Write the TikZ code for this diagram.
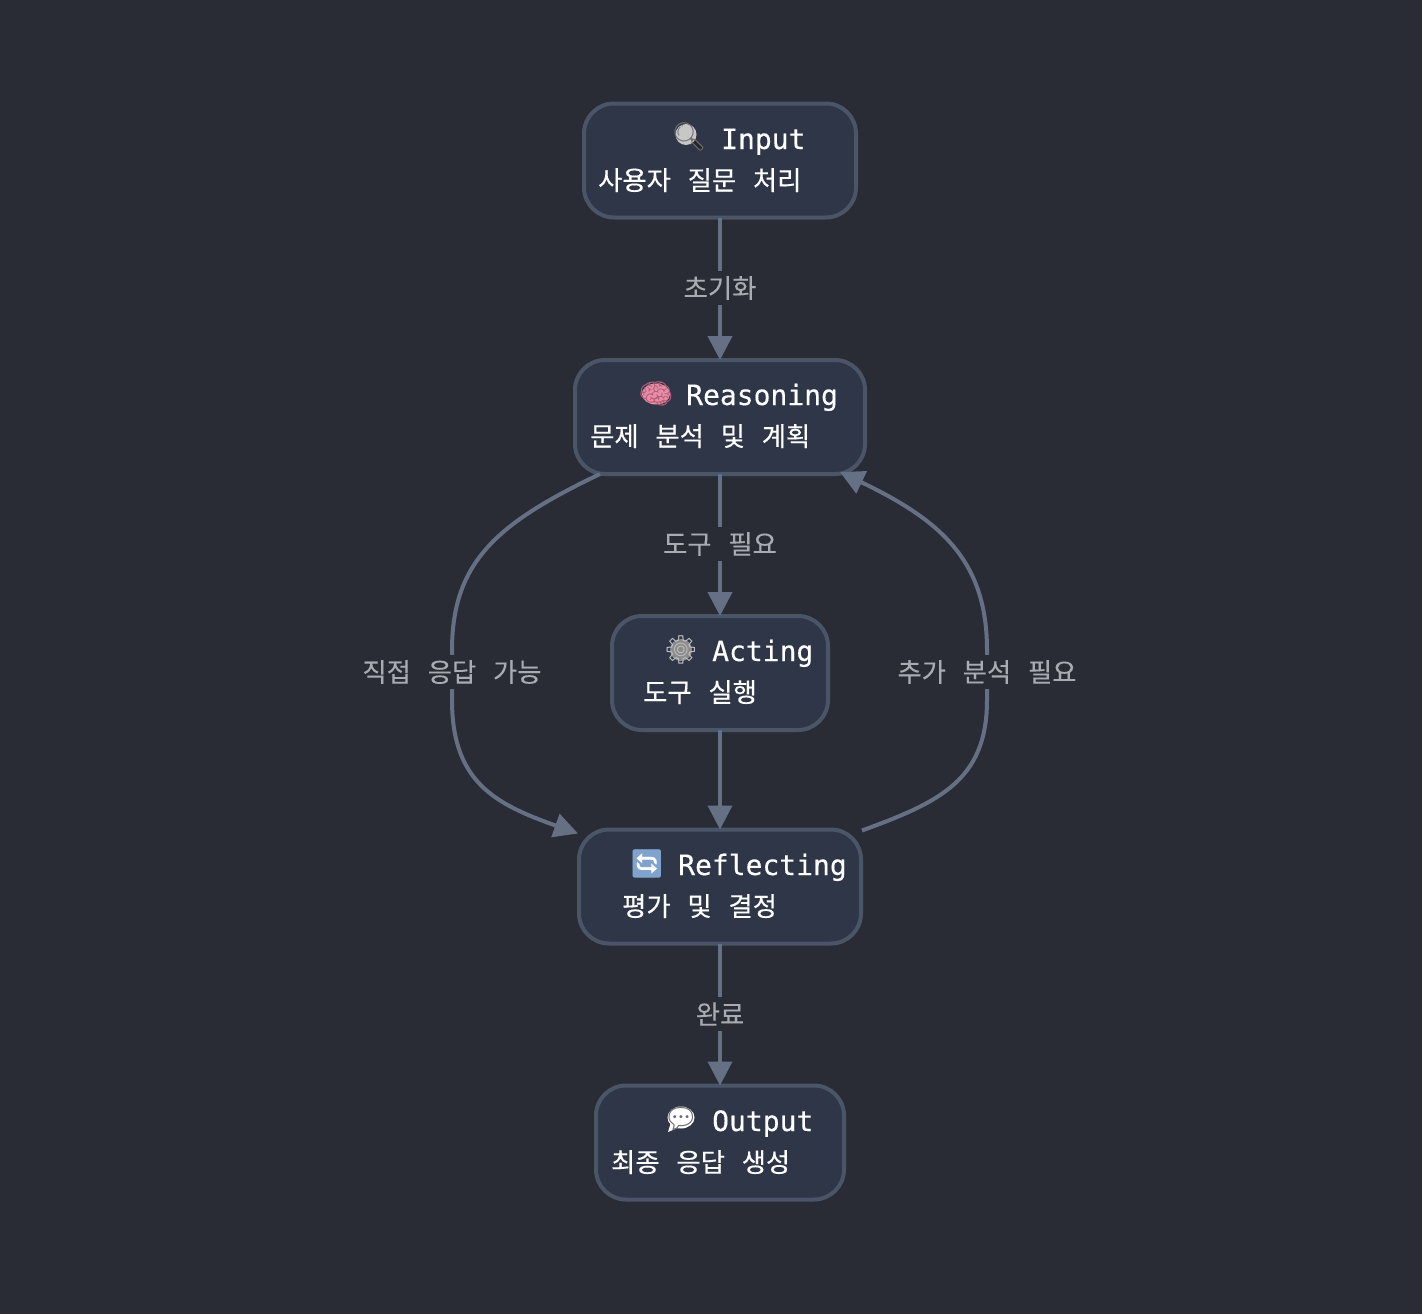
\documentclass[tikz,border=0pt]{standalone}
\usepackage{fontspec}
\usetikzlibrary{arrows.meta,calc}
\setmainfont[FakeBold=0.25]{DejaVu Sans Mono}
\newfontfamily\krfont[FakeBold=0.35]{Noto Sans CJK KR}
\newfontfamily\krlabel[FakeBold=0.15]{Noto Sans CJK KR}
\newfontfamily\emojifont{Noto Emoji}
\definecolor{bgc}{HTML}{292C34}
\definecolor{boxfill}{HTML}{2E3647}
\definecolor{boxline}{HTML}{4A5568}
\definecolor{edgec}{HTML}{667085}
\definecolor{labelc}{HTML}{A8ABB2}
\definecolor{brainc}{HTML}{E58FA8}
\definecolor{brainl}{HTML}{B85C78}
\definecolor{cyclec}{HTML}{7FA3CC}
\newcommand{\kgap}{\hspace{16.8pt}}
\tikzset{
  x=1pt,y=-1pt,
  stagebox/.style={draw=boxline,fill=boxfill,line width=4pt,rounded corners=30pt,inner sep=0pt,outer sep=0pt,minimum height=114pt},
  titletext/.style={anchor=base west,inner sep=0pt,text=white,font=\fontsize{28}{28}\selectfont},
  subtext/.style={anchor=base west,inner sep=0pt,text=white,font=\fontsize{26.35}{28}\krfont},
  emojitext/.style={anchor=center,inner sep=0pt,font=\fontsize{28}{28}\emojifont},
  edgelabel/.style={fill=bgc,text=labelc,inner sep=0pt,minimum height=34pt,font=\fontsize{26.35}{28}\krlabel},
  flow/.style={draw=edgec,line width=4pt,-{Triangle[length=24pt,width=24pt]}},
}
\begin{document}
\begin{tikzpicture}
\useasboundingbox[fill=bgc] (0,0) rectangle (1422,1314);
\node[stagebox,minimum width=272pt] (input) at (720,160.5) {};
\node[stagebox,minimum width=290pt] (reason) at (720,417) {};
\node[stagebox,minimum width=216pt] (act) at (720,673) {};
\node[stagebox,minimum width=282pt] (reflect) at (720,886.5) {};
\node[stagebox,minimum width=248pt] (output) at (720,1142.5) {};

\draw[flow] (input.south) -- (reason.north);
\draw[flow] (reason.south) -- (act.north);
\draw[flow] (act.south) -- (reflect.north);
\draw[flow] (reflect.south) -- (output.north);
\coordinate (ls) at ($(reason.south)+(-120,0)$);
\coordinate (le) at ($(reflect.north)+(-142,4)$);
\coordinate (rs) at ($(reflect.north)+(142,1)$);
\coordinate (re) at ($(reason.south)+(120,-2)$);
\draw[flow] (ls) .. controls (500,522) and (452,560) .. (452,650) -- (452,700) .. controls (452,782) and (495,804) .. (le);
\draw[flow] (rs) .. controls (940,802) and (987,780) .. (987,700) -- (987,650) .. controls (987,560) and (940,520) .. (re);

\node[edgelabel] (l1) at (720,288) {초기화};
\node[edgelabel] (l2) at (720,544) {도구\kgap 필요};
\node[edgelabel] (l3) at (452,672) {직접\kgap 응답\kgap 가능};
\node[edgelabel] (l4) at (987,672) {추가\kgap 분석\kgap 필요};
\node[edgelabel] (l5) at (720,1014) {완료};

\draw[black!85,line width=4pt,line cap=round] (694,142) -- (701,149);
\fill[black!22] (686,134.5) circle (10.5pt);
\fill[brainc] (656,394) ellipse (14pt and 10.5pt);
\fill[black!45] (681,650) circle (11pt);
\fill[white,rounded corners=5pt] (634,851) rectangle (660,877);
\fill[white] (681,1117.5) ellipse (13.5pt and 11pt);
\fill[white] (671,1122) -- (668,1132) -- (680,1127) -- cycle;

\node[emojitext,text=black!55] (e1) at (689,137) {🔍};
\node[titletext] (t1) at (721,149) {Input};
\node[subtext] (s1) at (598,190) {사용자\kgap 질문\kgap 처리};
\node[emojitext,text=brainl] (e2) at (656,394) {🧠};
\node[titletext] (t2) at (686,405) {Reasoning};
\node[subtext] (s2) at (590,446) {문제\kgap 분석\kgap 및\kgap 계획};
\node[emojitext,text=black!25] (e3) at (681,650) {⚙};
\node[titletext] (t3) at (712,661) {Acting};
\node[subtext] (s3) at (643,702) {도구\kgap 실행};
\node[emojitext,text=cyclec] (e4) at (647,864) {🔄};
\node[titletext] (t4) at (678,875) {Reflecting};
\node[subtext] (s4) at (622,916) {평가\kgap 및\kgap 결정};
\node[emojitext,text=black!60] (e5) at (681,1119) {💬};
\node[titletext] (t5) at (712,1131) {Output};
\node[subtext] (s5) at (611,1172) {최종\kgap 응답\kgap 생성};
\end{tikzpicture}
\end{document}
